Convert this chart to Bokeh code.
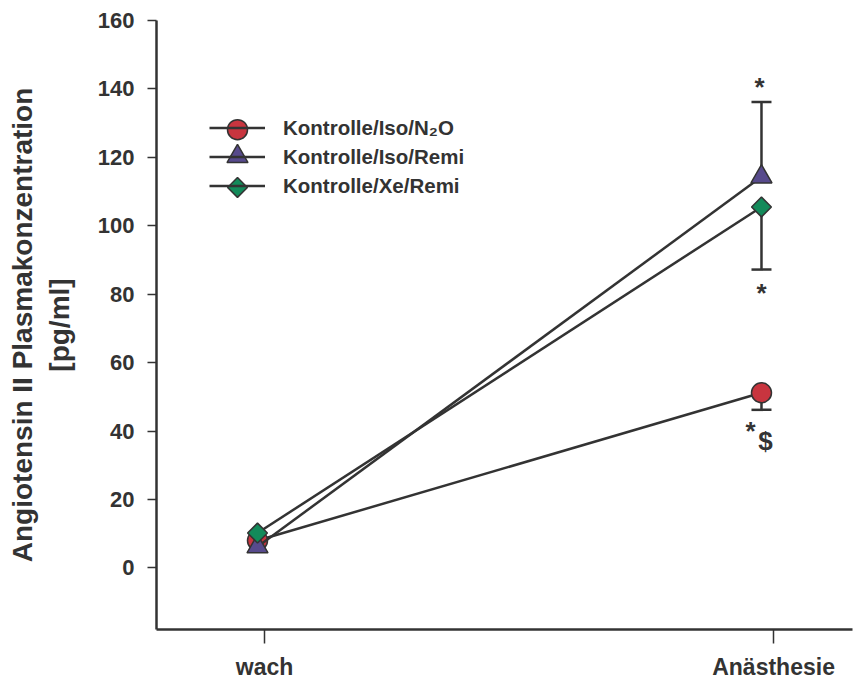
import math
from bokeh.plotting import figure
from bokeh.models import Range1d, FixedTicker, Legend, LegendItem, ColumnDataSource
from bokeh.core.properties import value
from bokeh.embed import file_html
from bokeh.resources import INLINE

# ---------------- data ----------------
timepoints = ["wach", "Anästhesie"]
x_pos = [0, 1]
tick_pos = [0.014, 1.024]
y_ticks = [0, 20, 40, 60, 80, 100, 120, 140, 160]

series_names = ["Kontrolle/Iso/N\u2082O", "Kontrolle/Iso/Remi", "Kontrolle/Xe/Remi"]
n2o = [8.0, 51.2]
iso_remi = [6.2, 114.3]
xe_remi = [10.2, 105.5]

# one-sided error bars at "Anästhesie"
err_x = [1, 1, 1]
err_from = [n2o[1], iso_remi[1], xe_remi[1]]
err_to = [46.2, 136.2, 87.2]

# significance marks
ann_text = ["*", "*", "*", "$"]
ann_x = [1, 1, 1, 1]
ann_y = [err_to[1], err_to[2], err_to[0], err_to[0]]
ann_dx = [-2, 0, -11, 4]
ann_dy = [-15, 23, 21, 31]

# ---------------- styles ----------------
FONT = "Liberation Sans"
DARK = "#333333"
colors = ["#c8353f", "#574a8c", "#138a5a"]
markers = ["circle", "triangle", "square"]
sizes = [20, 21, 14]
angles = [0, 0, math.pi / 4]

FRAME_W = 854 - 156 - 2
FRAME_H = 682 - 20 - 51

p = figure(width=854, height=682, output_backend="svg", toolbar_location=None,
           x_range=Range1d(-0.2004, 1.1806), y_range=Range1d(-18, 160),
           min_border_left=156, min_border_right=2, min_border_top=20,
           min_border_bottom=51)
p.outline_line_color = None
p.grid.visible = False
p.background_fill_color = "white"
# pixel-based ranges used only to place the legend symbols
p.extra_x_ranges = {"px": Range1d(0, FRAME_W)}
p.extra_y_ranges = {"px": Range1d(FRAME_H, 0)}

# axes
for ax in (p.xaxis[0], p.yaxis[0]):
    ax.axis_line_color = DARK
    ax.axis_line_width = 2.5
    ax.major_tick_line_color = DARK
    ax.major_tick_line_width = 1.5
    ax.minor_tick_line_color = None
    ax.major_tick_in = 0
    ax.major_label_text_font = FONT
    ax.major_label_text_font_style = "bold"
    ax.major_label_text_color = DARK

p.yaxis.ticker = FixedTicker(ticks=y_ticks)
p.yaxis.major_tick_out = 9
p.yaxis.major_label_standoff = 13
p.yaxis.major_label_text_font_size = "22px"
p.yaxis.axis_label = "Angiotensin II Plasmakonzentration\n[pg/ml]"
p.yaxis.axis_label_text_font = FONT
p.yaxis.axis_label_text_font_style = "bold"
p.yaxis.axis_label_text_font_size = "28px"
p.yaxis.axis_label_text_color = DARK
p.yaxis.axis_label_standoff = 20

p.xaxis.ticker = FixedTicker(ticks=tick_pos)
p.xaxis.major_label_overrides = {t: lab for t, lab in zip(tick_pos, timepoints)}
p.xaxis.major_tick_out = 14
p.xaxis.major_label_standoff = 10
p.xaxis.major_label_text_font_size = "23px"

# error bars
esrc = ColumnDataSource(dict(x=err_x, y0=err_from, y1=err_to))
p.segment(x0="x", y0="y0", x1="x", y1="y1", source=esrc, line_color=DARK,
          line_width=2.5)
p.scatter("x", "y1", source=esrc, marker="dash", size=20, line_color=DARK,
          line_width=2.5)

# series
items = []
for name, vals, col, mk, sz, ang in zip(series_names, [n2o, iso_remi, xe_remi],
                                        colors, markers, sizes, angles):
    src = ColumnDataSource(dict(x=x_pos, y=vals))
    lr = p.line("x", "y", source=src, line_color=DARK, line_width=2.5)
    p.scatter("x", "y", source=src, marker=mk, size=sz, angle=ang,
              fill_color=col, line_color=DARK, line_width=1.5)
    items.append(LegendItem(label=name, renderers=[lr]))

# significance marks
asrc = ColumnDataSource(dict(x=ann_x, y=ann_y, t=ann_text, dx=ann_dx, dy=ann_dy))
p.text("x", "y", text="t", source=asrc, x_offset="dx", y_offset="dy",
       text_font=value(FONT), text_font_style="bold", text_font_size="26px",
       text_color=DARK, text_align="center", text_baseline="alphabetic")

# legend (lines + labels), full-size symbols drawn on top of the legend lines
LEG_X, LEG_Y = 53, 429          # frame-relative, from bottom-left
GLYPH_W, ROW_H = 56, 29
legend = Legend(items=items, location=(LEG_X, LEG_Y), padding=0, margin=0,
                border_line_color=None, background_fill_alpha=0,
                glyph_width=GLYPH_W, glyph_height=ROW_H, label_height=ROW_H,
                spacing=0, label_standoff=18, label_text_font=FONT,
                label_text_font_style="bold", label_text_font_size="20.5px",
                label_text_color=DARK)
p.add_layout(legend, "center")

leg_top = FRAME_H - LEG_Y - ROW_H * len(series_names)
for i, (col, mk, sz, ang) in enumerate(zip(colors, markers, sizes, angles)):
    cx = LEG_X + GLYPH_W / 2
    cy = leg_top + ROW_H * (i + 0.5)
    if mk == "triangle":
        cy -= 2
    p.scatter([cx], [cy], x_range_name="px", y_range_name="px", marker=mk,
              size=sz, angle=ang, fill_color=col, line_color=DARK,
              line_width=1.5, level="overlay")

open("out.html", "w").write(file_html(p, INLINE))
